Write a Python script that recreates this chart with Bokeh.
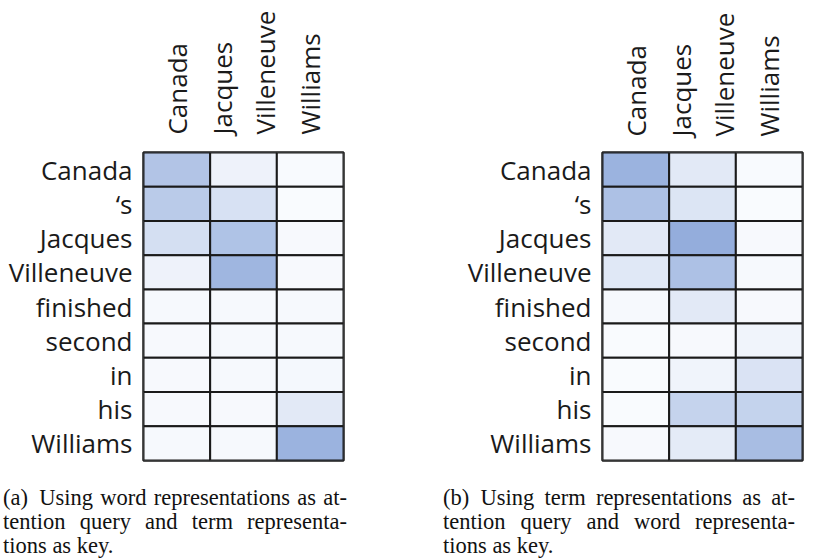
from bokeh.plotting import figure
from bokeh.models import ColumnDataSource, LinearColorMapper, Div
from bokeh.layouts import column, row
from bokeh.embed import file_html
from bokeh.resources import INLINE
from bokeh.transform import transform

# ---------------- data ----------------
row_tokens = ["Canada", "\u2018s", "Jacques", "Villeneuve", "finished",
              "second", "in", "his", "Williams"]
col_terms = ["Canada", "Jacques\nVilleneuve", "Williams"]

# attention weights, rows = query tokens, columns = key terms
weights_a = [
    [0.62, 0.10, 0.01],
    [0.55, 0.30, 0.00],
    [0.32, 0.64, 0.02],
    [0.10, 0.78, 0.02],
    [0.03, 0.03, 0.03],
    [0.02, 0.03, 0.03],
    [0.02, 0.03, 0.04],
    [0.02, 0.02, 0.20],
    [0.03, 0.03, 0.82],
]
weights_b = [
    [0.82, 0.20, 0.01],
    [0.66, 0.25, 0.00],
    [0.20, 0.88, 0.02],
    [0.22, 0.66, 0.03],
    [0.03, 0.20, 0.02],
    [0.00, 0.02, 0.08],
    [0.00, 0.08, 0.27],
    [0.00, 0.45, 0.46],
    [0.02, 0.18, 0.70],
]

caption_a = ["(a)\u2002Using word representations as at-",
             "tention query and term representa-",
             "tions as key."]
caption_b = ["(b)\u2002Using term representations as at-",
             "tention query and word representa-",
             "tions as key."]

# ---------------- style ----------------
def hex2rgb(h):
    h = h.lstrip("#")
    return tuple(int(h[i:i + 2], 16) for i in (0, 2, 4))

c0, c1 = hex2rgb("#F9FBFE"), hex2rgb("#86A3D8")
palette = []
for i in range(256):
    t = i / 255
    palette.append("#%02x%02x%02x" % tuple(round(a + (b - a) * t) for a, b in zip(c0, c1)))
mapper = LinearColorMapper(palette=palette, low=0, high=1)

LABEL_FONT = "Open Sans"
LABEL_SIZE = "26px"
INK = "#1a1a1a"


def heatmap(weights, width, height, left, right, top, bottom, xstand):
    xs, ys, vs = [], [], []
    for r, tok in enumerate(row_tokens):
        for c, term in enumerate(col_terms):
            xs.append(term)
            ys.append(tok)
            vs.append(weights[r][c])
    src = ColumnDataSource(dict(x=xs, y=ys, v=vs))
    p = figure(width=width, height=height, x_range=col_terms,
               y_range=list(reversed(row_tokens)), x_axis_location="above",
               output_backend="svg", toolbar_location=None,
               min_border_left=left, min_border_right=right,
               min_border_top=top, min_border_bottom=bottom)
    p.rect(x="x", y="y", width=1, height=1, source=src,
           fill_color=transform("v", mapper), line_color=INK, line_width=2)
    p.grid.visible = False
    p.outline_line_color = INK
    p.outline_line_width = 2.5
    for ax in (p.xaxis[0], p.yaxis[0]):
        ax.axis_line_color = None
        ax.major_tick_line_color = None
        ax.minor_tick_line_color = None
        ax.major_label_text_font = LABEL_FONT
        ax.major_label_text_font_size = LABEL_SIZE
        ax.major_label_text_color = INK
    p.xaxis.major_label_orientation = "vertical"
    p.xaxis.major_label_standoff = xstand
    p.yaxis.major_label_standoff = 5
    p.background_fill_color = "white"
    p.border_fill_color = "white"
    return p


p1 = heatmap(weights_a, 408, 468, 143, 65, 150, 8, 12)
p2 = heatmap(weights_b, 409, 468, 194, 15, 152, 6, 10)


def caption(lines, left, width, total):
    body = "".join(
        f'<div style="text-align:justify;text-align-last:justify;white-space:nowrap">{ln}</div>'
        for ln in lines[:-1]) + f'<div style="white-space:nowrap">{lines[-1]}</div>'
    html = (f'<div style="margin-left:{left}px;margin-top:18px;width:{width}px;'
            f'font-family:\'Liberation Serif\';font-size:22.5px;line-height:24px;color:#111">'
            f'{body}</div>')
    return Div(text=html, width=total, height=91, margin=(0, 0, 0, 0))


d1 = caption(caption_a, 3, 344, 408)
d2 = caption(caption_b, 35, 352, 409)

layout = column(row(p1, p2, spacing=0), row(d1, d2, spacing=0), spacing=0)

open("out.html", "w").write(file_html(layout, INLINE))
